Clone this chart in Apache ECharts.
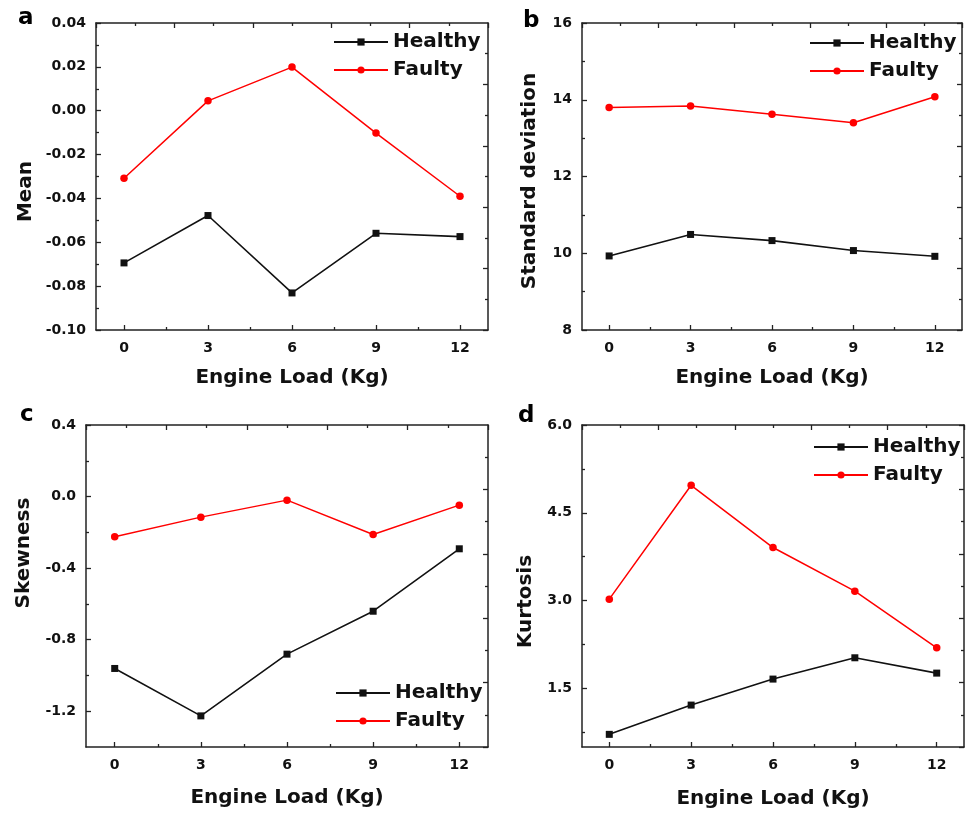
<!DOCTYPE html>
<html><head><meta charset="utf-8">
<script src="https://cdn.jsdelivr.net/npm/echarts@6/dist/echarts.min.js"></script>
<style>html,body{margin:0;padding:0;background:#fff}#c{width:970px;height:819px}</style>
</head><body><div id="c"></div>
<script>
// ---- data ----
const loads = [0, 3, 6, 9, 12];
const seriesNames = ['Healthy', 'Faulty'];
const meanHealthy = [-0.0694, -0.0478, -0.0831, -0.0559, -0.0574];
const meanFaulty  = [-0.0308, 0.0045, 0.0199, -0.0102, -0.0390];
const stdHealthy  = [9.93, 10.49, 10.33, 10.07, 9.92];
const stdFaulty   = [13.80, 13.84, 13.62, 13.40, 14.08];
const skewHealthy = [-0.961, -1.226, -0.881, -0.641, -0.292];
const skewFaulty  = [-0.225, -0.115, -0.020, -0.212, -0.048];
const kurtHealthy = [0.716, 1.216, 1.660, 2.024, 1.762];
const kurtFaulty  = [3.025, 4.970, 3.907, 3.162, 2.195];
// ---- tick labels ----
const xTicks = [0, 3, 6, 9, 12];
const xMinor = [1.5, 4.5, 7.5, 10.5];
const meanTicks = [-0.10, -0.08, -0.06, -0.04, -0.02, 0.00, 0.02, 0.04];
const meanMinor = [-0.09, -0.07, -0.05, -0.03, -0.01, 0.01, 0.03];
const stdTicks = [8, 10, 12, 14, 16];
const stdMinor = [9, 11, 13, 15];
const skewTicks = [-1.2, -0.8, -0.4, 0.0, 0.4];
const skewMinor = [-1.0, -0.6, -0.2, 0.2];
const kurtTicks = [1.5, 3.0, 4.5, 6.0];
const kurtMinor = [0.75, 2.25, 3.75, 5.25];
const xTitle = 'Engine Load (Kg)';

const FONT = 'DejaVu Sans';
const AX = '#222';
const panels = [
  {letter:'a', lx:18, ly:25, yName:'Mean', rect:{left:96, top:23, width:392, height:307},
   yMin:-0.10, yMax:0.04, ticks:meanTicks, minor:meanMinor, dec:2, h:meanHealthy, f:meanFaulty,
   yGap:60, yPad:[0,30,0,0], xGap:38, lg:{left:333, top:28}},
  {letter:'b', lx:523, ly:28, yName:'Standard deviation', rect:{left:582, top:23, width:380, height:307},
   yMin:8, yMax:16, ticks:stdTicks, minor:stdMinor, dec:0, h:stdHealthy, f:stdFaulty,
   yGap:42, yPad:[0,9,0,0], xGap:38, lg:{left:809, top:29}},
  {letter:'c', lx:20, ly:422, yName:'Skewness', rect:{left:86, top:425, width:402, height:322},
   yMin:-1.4, yMax:0.4, ticks:skewTicks, minor:skewMinor, dec:1, h:skewHealthy, f:skewFaulty,
   yGap:52, yPad:[0,0,0,66], xGap:41, lg:{left:335, top:679}},
  {letter:'d', lx:518, ly:423, yName:'Kurtosis', rect:{left:582, top:425, width:382, height:322},
   yMin:0.5, yMax:6.0, ticks:kurtTicks, minor:kurtMinor, dec:1, h:kurtHealthy, f:kurtFaulty,
   yGap:46, yPad:[0,31,0,0], xGap:42, lg:{left:813, top:433}}
];

function splits(min, max, n, parity) {
  const out = [];
  for (let k = 0; k <= n; k++) if (k % 2 === parity) out.push(min + (max - min) * k / n);
  return out;
}
const tickStyle = {color: AX, width: 1.3};
const lineStyle = {color: AX, width: 1.5};
const labelFont = {fontFamily: FONT, fontWeight: 'bold', fontSize: 14, color: '#111'};
const nameFont = {fontFamily: FONT, fontWeight: 'bold', fontSize: 20, color: '#111'};

const grid = [], xAxis = [], yAxis = [], series = [], legend = [], graphic = [];
panels.forEach((p, i) => {
  const gMain = grid.length;
  grid.push(Object.assign({containLabel: false}, p.rect));
  const gOv = grid.length;
  grid.push(Object.assign({containLabel: false}, p.rect));
  const xMainIdx = xAxis.length;
  xAxis.push({
    gridIndex: gMain, type: 'value', position: 'bottom', min: -1, max: 13,
    axisLine: {show: true, onZero: false, lineStyle},
    axisTick: {show: true, inside: true, length: 5, customValues: xTicks, lineStyle: tickStyle},
    axisLabel: Object.assign({customValues: xTicks, margin: 11}, labelFont),
    splitLine: {show: false},
    name: xTitle, nameLocation: 'middle', nameGap: p.xGap, nameTextStyle: nameFont
  });
  xAxis.push({
    gridIndex: gMain, type: 'value', position: 'top', min: -1, max: 13,
    axisLine: {show: true, onZero: false, lineStyle},
    axisTick: {show: true, inside: true, length: 5, customValues: splits(-1, 13, 10, 0), lineStyle: tickStyle},
    axisLabel: {show: false}, splitLine: {show: false}
  });
  xAxis.push({
    gridIndex: gOv, type: 'value', position: 'bottom', min: -1, max: 13,
    axisLine: {show: false, onZero: false},
    axisTick: {show: true, inside: true, length: 3, customValues: xMinor, lineStyle: tickStyle},
    axisLabel: {show: false}, splitLine: {show: false}
  });
  xAxis.push({
    gridIndex: gOv, type: 'value', position: 'top', min: -1, max: 13,
    axisLine: {show: false, onZero: false},
    axisTick: {show: true, inside: true, length: 3, customValues: splits(-1, 13, 10, 1), lineStyle: tickStyle},
    axisLabel: {show: false}, splitLine: {show: false}
  });
  const yMainIdx = yAxis.length;
  yAxis.push({
    gridIndex: gMain, type: 'value', position: 'left', min: p.yMin, max: p.yMax,
    axisLine: {show: true, onZero: false, lineStyle},
    axisTick: {show: true, inside: true, length: 5, customValues: p.ticks, lineStyle: tickStyle},
    axisLabel: Object.assign({customValues: p.ticks, margin: 10, formatter: v => Number(v).toFixed(p.dec)}, labelFont),
    splitLine: {show: false},
    name: p.yName, nameLocation: 'middle', nameGap: p.yGap,
    nameTextStyle: Object.assign({padding: p.yPad}, nameFont)
  });
  yAxis.push({
    gridIndex: gMain, type: 'value', position: 'right', min: p.yMin, max: p.yMax,
    axisLine: {show: true, onZero: false, lineStyle},
    axisTick: {show: true, inside: true, length: 5, customValues: splits(p.yMin, p.yMax, 10, 0), lineStyle: tickStyle},
    axisLabel: {show: false}, splitLine: {show: false}
  });
  yAxis.push({
    gridIndex: gOv, type: 'value', position: 'left', min: p.yMin, max: p.yMax,
    axisLine: {show: false, onZero: false},
    axisTick: {show: true, inside: true, length: 3, customValues: p.minor, lineStyle: tickStyle},
    axisLabel: {show: false}, splitLine: {show: false}
  });
  yAxis.push({
    gridIndex: gOv, type: 'value', position: 'right', min: p.yMin, max: p.yMax,
    axisLine: {show: false, onZero: false},
    axisTick: {show: true, inside: true, length: 3, customValues: splits(p.yMin, p.yMax, 10, 1), lineStyle: tickStyle},
    axisLabel: {show: false}, splitLine: {show: false}
  });
  series.push({
    name: seriesNames[0], type: 'line', xAxisIndex: xMainIdx, yAxisIndex: yMainIdx,
    data: loads.map((x, j) => [x, p.h[j]]),
    symbol: 'rect', symbolSize: 7, color: '#111',
    lineStyle: {color: '#111', width: 1.6}, itemStyle: {color: '#111'}
  });
  series.push({
    name: seriesNames[1], type: 'line', xAxisIndex: xMainIdx, yAxisIndex: yMainIdx,
    data: loads.map((x, j) => [x, p.f[j]]),
    symbol: 'circle', symbolSize: 7.5, color: '#ff0000',
    lineStyle: {color: '#ff0000', width: 1.5}, itemStyle: {color: '#ff0000'}
  });
  legend.push({
    orient: 'vertical', left: p.lg.left, top: p.lg.top, padding: 0,
    itemWidth: 54, itemHeight: 9, itemGap: 0,
    selectedMode: false, data: seriesNames,
    textStyle: {fontFamily: FONT, fontWeight: 'bold', fontSize: 20, lineHeight: 28, color: '#111'}
  });
  graphic.push({
    type: 'text', x: p.lx, y: p.ly + 5,
    style: {text: p.letter, font: 'bold 23px "DejaVu Sans"', fill: '#000', verticalAlign: 'bottom', align: 'left'}
  });
});

const chart = echarts.init(document.getElementById('c'), null, {renderer: 'canvas'});
chart.setOption({
  animation: false, backgroundColor: '#fff',
  grid, xAxis, yAxis, series, legend, graphic
});
</script></body></html>
